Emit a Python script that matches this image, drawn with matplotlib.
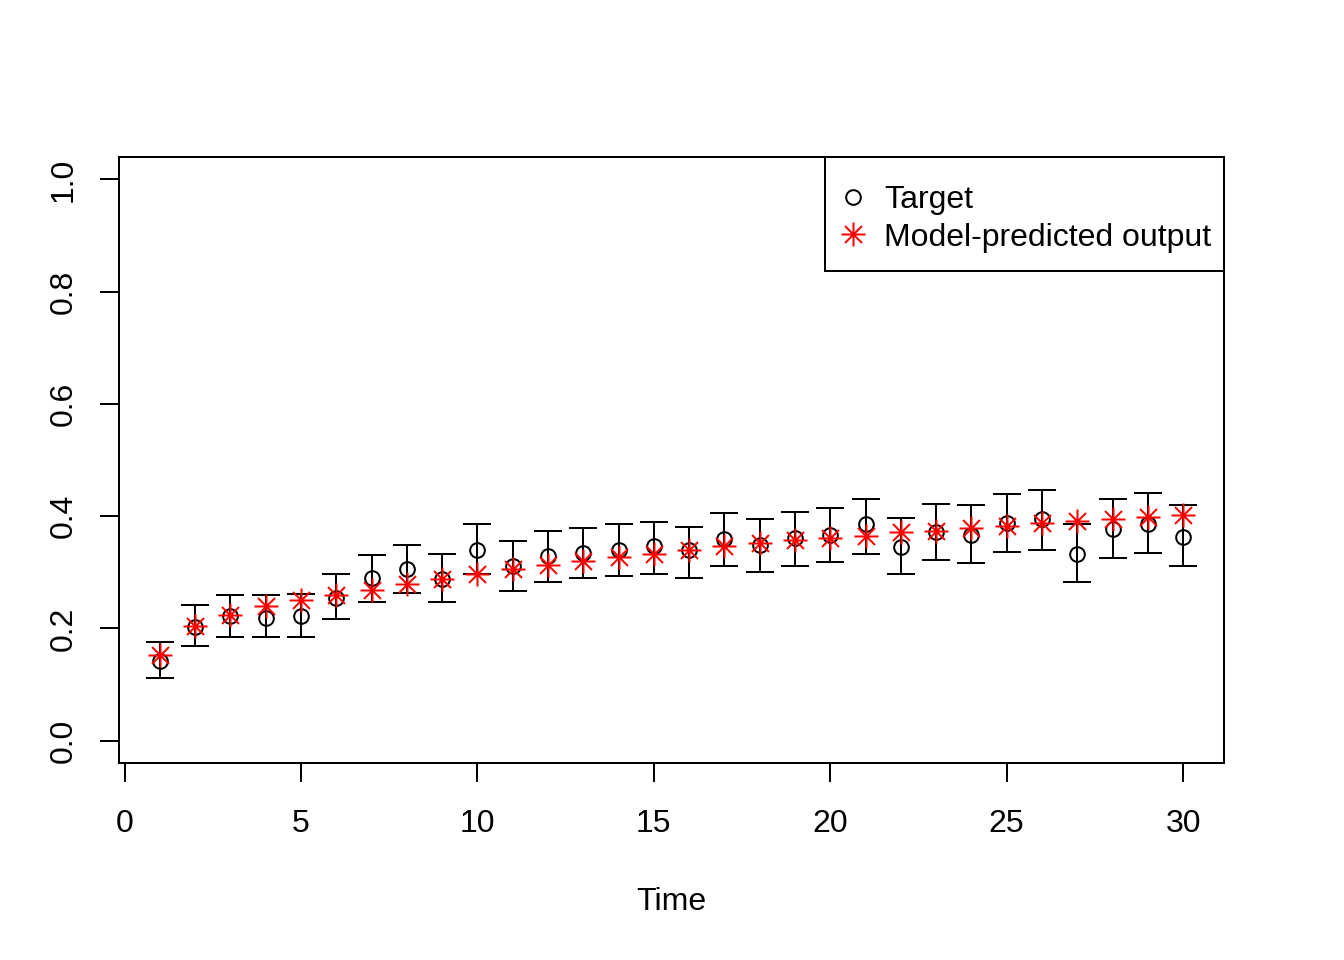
import matplotlib
matplotlib.use("Agg")
import matplotlib.pyplot as plt
import numpy as np
from matplotlib.path import Path
from matplotlib.patches import Rectangle

plt.rcParams['font.family'] = ['Liberation Sans', 'DejaVu Sans']

time = list(range(1, 31))
target = [0.141, 0.202, 0.222, 0.219, 0.222, 0.254, 0.289, 0.305, 0.288, 0.340,
          0.311, 0.329, 0.335, 0.340, 0.346, 0.339, 0.359, 0.348, 0.361, 0.367,
          0.386, 0.345, 0.371, 0.366, 0.388, 0.395, 0.333, 0.377, 0.386, 0.362]
predicted = [0.152, 0.204, 0.223, 0.239, 0.250, 0.260, 0.269, 0.279, 0.288, 0.296,
             0.306, 0.313, 0.320, 0.327, 0.333, 0.340, 0.346, 0.352, 0.357, 0.361,
             0.365, 0.371, 0.374, 0.379, 0.383, 0.387, 0.391, 0.395, 0.398, 0.402]
err_low = [0.112, 0.169, 0.184, 0.184, 0.184, 0.216, 0.247, 0.263, 0.247, 0.296,
           0.267, 0.283, 0.289, 0.294, 0.296, 0.289, 0.311, 0.301, 0.311, 0.318,
           0.333, 0.297, 0.321, 0.317, 0.336, 0.340, 0.282, 0.325, 0.334, 0.311]
err_high = [0.176, 0.241, 0.259, 0.259, 0.261, 0.296, 0.331, 0.349, 0.332, 0.386,
            0.355, 0.373, 0.379, 0.386, 0.389, 0.381, 0.405, 0.395, 0.408, 0.415,
            0.431, 0.396, 0.422, 0.419, 0.440, 0.446, 0.386, 0.431, 0.442, 0.419]

# R style pch=8 asterisk
d = np.sqrt(0.5)
star = Path([(-1, 0), (1, 0), (0, -1), (0, 1), (-d, -d), (d, d), (-d, d), (d, -d)],
            [Path.MOVETO, Path.LINETO] * 4)

t = np.array(time)
tg = np.array(target)
yerr = [tg - np.array(err_low), np.array(err_high) - tg]

W, H = 1344, 960
L, R, T, B = 119, 1224, 157, 763

fig = plt.figure(figsize=(7, 5), dpi=192)
ax = fig.add_axes([L/W, 1 - B/H, (R-L)/W, (B-T)/H])

ax.errorbar(t, tg, yerr=yerr, fmt='none', ecolor='black', elinewidth=0.75,
            capsize=5.2, capthick=0.75)
ax.plot(t, tg, 'o', mfc='none', mec='black', ms=5.5, mew=0.75, label='Target')
ax.plot(t, predicted, linestyle='none', marker=star, color='red', ms=9, mew=0.75,
        label='Model-predicted output')

ax.set_xlim(1 - 29*0.04, 30 + 29*0.04)
ax.set_ylim(-0.04, 1.04)
ax.set_xticks([0, 5, 10, 15, 20, 25, 30])
ax.set_yticks([0.0, 0.2, 0.4, 0.6, 0.8, 1.0])
ax.set_yticklabels(['0.0', '0.2', '0.4', '0.6', '0.8', '1.0'], rotation=90, va='center')
ax.tick_params(direction='out', length=7.2, width=0.75, labelsize=12)
ax.tick_params(axis='x', pad=10)
ax.tick_params(axis='y', pad=8)
for s in ax.spines.values():
    s.set_linewidth(0.75)
ax.set_xlabel('Time', fontsize=12, labelpad=18)

# legend box like R's legend()
bx0 = (825 - L) / (R - L)
by0 = (B - 271) / (B - T)
ax.add_patch(Rectangle((bx0, by0), 1 - bx0, 1 - by0, transform=ax.transAxes,
                       fill=False, edgecolor='black', lw=0.75, zorder=5, clip_on=False))
hx = (837 - L) / (R - L)
hy = (B - 219) / (B - T)
ax.legend(loc='center left', bbox_to_anchor=(hx, hy), fontsize=12, frameon=False,
          borderaxespad=0, borderpad=0, handlelength=1.0, handletextpad=0.47,
          labelspacing=0.225)

fig.savefig('out.png', dpi=192)
